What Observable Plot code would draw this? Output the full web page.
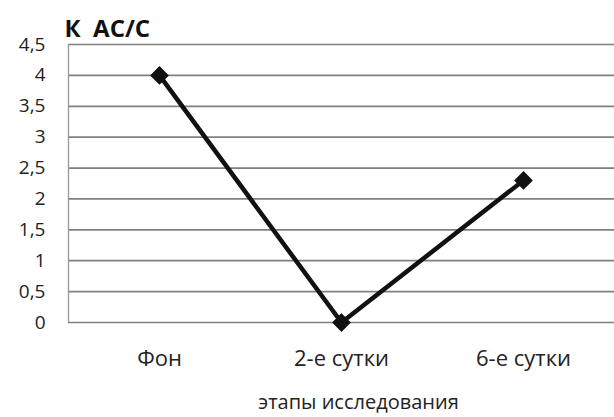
<!DOCTYPE html>
<html><head><meta charset="utf-8">
<script src="https://cdn.jsdelivr.net/npm/d3@7"></script>
<script src="https://cdn.jsdelivr.net/npm/@observablehq/plot@0.6"></script>
<style>
body{margin:0;background:#fff;}
svg text{white-space:pre;}
</style></head>
<body><div id="chart"></div>
<script>
const stages = ["Фон", "2-е сутки", "6-е сутки"];
const values = [4, 0, 2.3];
const yTicks = [0, 0.5, 1, 1.5, 2, 2.5, 3, 3.5, 4, 4.5];
const yTitle = "К  АС/С";
const xTitle = "этапы исследования";

const data = stages.map((s, i) => ({stage: s, value: values[i]}));
const fmt = v => String(v).replace(".", ",");
const font = "'Open Sans', 'DejaVu Sans', sans-serif";

const chart = Plot.plot({
  width: 614, height: 417,
  marginLeft: 68, marginRight: 0, marginTop: 44, marginBottom: 95,
  style: {fontFamily: font, fontSize: "19px", color: "#222", background: "#fff"},
  x: {type: "point", domain: stages, padding: 0.5, label: null},
  y: {domain: [0, 4.5], label: null},
  marks: [
    Plot.gridY(yTicks, {stroke: "#808080", strokeOpacity: 1, strokeWidth: 1.7}),
    Plot.frame({anchor: "left", stroke: "#999", strokeDasharray: "1,1", strokeWidth: 1.3}),
    Plot.axisY(yTicks, {tickFormat: fmt, tickSize: 0, tickPadding: 23, fontSize: 19, fill: "#222", label: null}),
    Plot.axisX({tickSize: 0, tickPadding: 28, fontSize: 22, fill: "#222", label: null}),
    Plot.lineY(data, {x: "stage", y: "value", stroke: "#111", strokeWidth: 4.5}),
    Plot.dot(data, {x: "stage", y: "value", symbol: "diamond2", r: 7.5, fill: "#111", stroke: "#111"}),
    Plot.text([yTitle], {frameAnchor: "top-left", dx: -4, dy: -25, textAnchor: "start", fontSize: 24, fontWeight: "bold", fill: "#111"}),
    Plot.text([xTitle], {frameAnchor: "bottom", dy: 86, dx: 17, fontSize: 20, fill: "#222"})
  ]
});
document.getElementById("chart").appendChild(chart);
</script></body></html>
